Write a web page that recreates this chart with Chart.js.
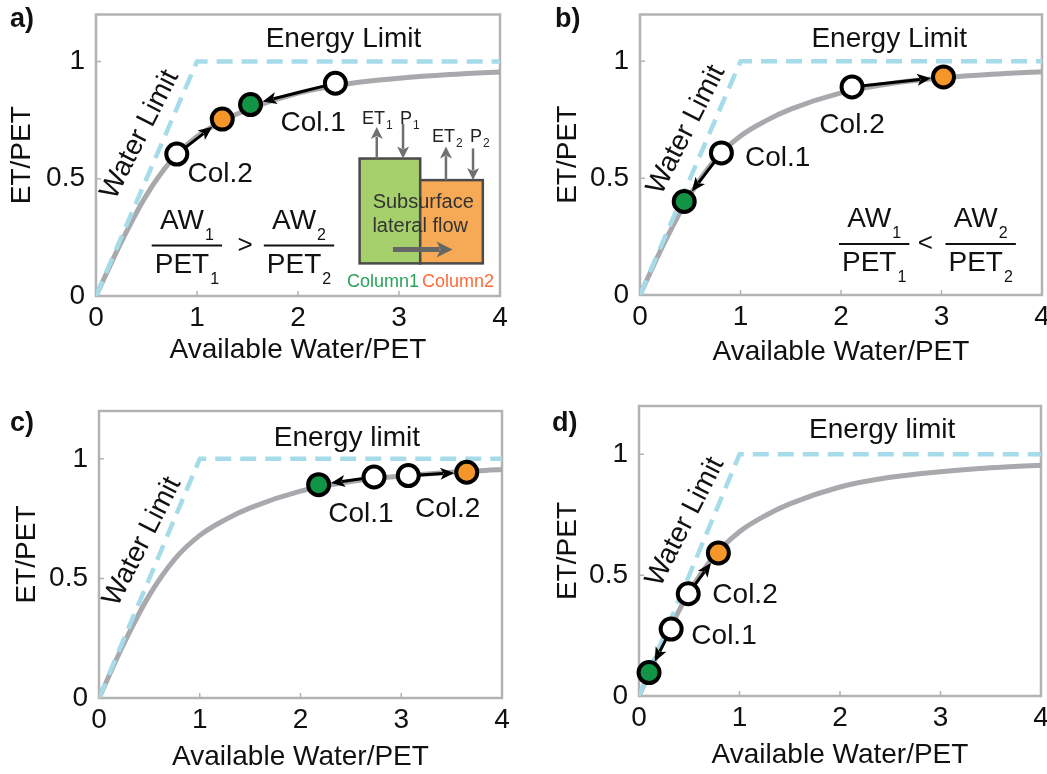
<!DOCTYPE html>
<html>
<head>
<meta charset="utf-8">
<script src="https://cdn.jsdelivr.net/npm/chart.js@4/dist/chart.umd.min.js"></script>
<style>
  html, body { margin: 0; padding: 0; background: #fff; overflow: hidden; }
  body { width: 1047px; height: 774px; position: relative; font-family: 'Liberation Sans', Arial, sans-serif; }
  .panel { position: absolute; }
  .panel canvas { display: block; }
  .tag { position: absolute; font-weight: bold; font-size: 27px; line-height: 28px; color: #111; }
</style>
</head>
<body>
<div class="panel" style="left:0;top:0"><canvas id="chartA" width="520" height="390"></canvas></div>
<div class="panel" style="left:520px;top:0"><canvas id="chartB" width="540" height="390"></canvas></div>
<div class="panel" style="left:0;top:390px"><canvas id="chartC" width="520" height="384"></canvas></div>
<div class="panel" style="left:520px;top:390px"><canvas id="chartD" width="540" height="384"></canvas></div>
<div class="tag" style="left:10px;top:4px">a)</div>
<div class="tag" style="left:555px;top:4px">b)</div>
<div class="tag" style="left:10px;top:408px">c)</div>
<div class="tag" style="left:552px;top:408px">d)</div>
<script>
const FONT = "'Liberation Sans', Arial, sans-serif";

// Budyko-type curve
const budykoX = [0, 0.25, 0.5, 0.75, 1, 1.25, 1.5, 2, 2.5, 3, 3.5, 4];
const budykoY = [0, 0.23, 0.43, 0.58, 0.68, 0.745, 0.795, 0.865, 0.905, 0.928, 0.944, 0.955];
// water limit + energy limit
const limitX = [0, 1, 4];
const limitY = [0, 1, 1];
const xTicks = [0, 1, 2, 3, 4];
const yTicks = [0, 0.5, 1];

// markers: Col.1 before, Col.1 after, Col.2 before, Col.2 after
const aX = [2.37, 1.53, 0.80, 1.25];
const aY = [0.907, 0.816, 0.605, 0.754];
const bX = [0.81, 0.44, 2.11, 3.02];
const bY = [0.608, 0.40, 0.89, 0.933];
const cX = [2.73, 2.18, 3.07, 3.65];
const cY = [0.924, 0.892, 0.93, 0.944];
const dX = [0.32, 0.10, 0.49, 0.79];
const dY = [0.277, 0.097, 0.423, 0.592];
const markerFill = ['#ffffff', '#119446', '#ffffff', '#f5962a'];

function arrow(ctx, x1, y1, x2, y2, cut1, cut2, width, head, half, color) {
    const a = Math.atan2(y2 - y1, x2 - x1);
    const c = Math.cos(a), s = Math.sin(a);
    const sx = x1 + c * cut1, sy = y1 + s * cut1;
    const ex = x2 - c * cut2, ey = y2 - s * cut2;
    ctx.strokeStyle = color;
    ctx.fillStyle = color;
    ctx.lineWidth = width;
    ctx.beginPath();
    ctx.moveTo(sx, sy);
    ctx.lineTo(ex - c * head * 0.8, ey - s * head * 0.8);
    ctx.stroke();
    ctx.beginPath();
    ctx.moveTo(ex, ey);
    ctx.lineTo(ex - c * head + s * half, ey - s * head - c * half);
    ctx.lineTo(ex - c * head * 0.75, ey - s * head * 0.75);
    ctx.lineTo(ex - c * head - s * half, ey - s * head + c * half);
    ctx.closePath();
    ctx.fill();
}

// text with a subscript, left aligned at (px, py) baseline
function subText(ctx, main, sub, px, py, size, subSize, drop) {
    ctx.font = size + 'px ' + FONT;
    ctx.fillText(main, px, py);
    const w = ctx.measureText(main).width;
    ctx.font = subSize + 'px ' + FONT;
    ctx.fillText(sub, px + w + 1, py + drop);
    return w + 1 + ctx.measureText(sub).width;
}

function measureSub(ctx, main, sub, size, subSize) {
    ctx.font = size + 'px ' + FONT;
    const w = ctx.measureText(main).width;
    ctx.font = subSize + 'px ' + FONT;
    return w + 1 + ctx.measureText(sub).width;
}

function drawFraction(ctx, cx, ly, num, den, sub) {
    const wN = measureSub(ctx, num, sub, 28, 16);
    const wD = measureSub(ctx, den, sub, 28, 16);
    const w = Math.max(wN, wD) + 6;
    ctx.strokeStyle = '#111';
    ctx.lineWidth = 2;
    ctx.beginPath();
    ctx.moveTo(cx - w / 2, ly);
    ctx.lineTo(cx + w / 2, ly);
    ctx.stroke();
    ctx.textAlign = 'left';
    ctx.textBaseline = 'alphabetic';
    subText(ctx, num, sub, cx - wN / 2, ly - 17, 28, 16, 11);
    subText(ctx, den, sub, cx - wD / 2, ly + 27, 28, 16, 11);
}

function drawInset(chart) {
    const { ctx, scales: { x, y } } = chart;
    const X = v => x.getPixelForValue(v);
    const Y = v => y.getPixelForValue(v);
    ctx.save();
    ctx.lineWidth = 2.5;
    ctx.strokeStyle = '#4a4a4a';
    ctx.fillStyle = '#a6d06c';
    ctx.fillRect(X(2.61), Y(0.586), X(3.21) - X(2.61), Y(0.139) - Y(0.586));
    ctx.strokeRect(X(2.61), Y(0.586), X(3.21) - X(2.61), Y(0.139) - Y(0.586));
    ctx.fillStyle = '#f7aa55';
    ctx.fillRect(X(3.21), Y(0.494), X(3.83) - X(3.21), Y(0.139) - Y(0.494));
    ctx.strokeRect(X(3.21), Y(0.494), X(3.83) - X(3.21), Y(0.139) - Y(0.494));

    ctx.fillStyle = '#333';
    ctx.textAlign = 'center';
    ctx.textBaseline = 'middle';
    ctx.font = '20px ' + FONT;
    ctx.fillText('Subsurface', X(3.24), Y(0.397));
    ctx.fillText('lateral flow', X(3.21), Y(0.295));

    arrow(ctx, X(2.94), Y(0.198), X(3.53), Y(0.198), 0, 0, 5, 16, 8, '#666');
    // vertical fluxes
    arrow(ctx, X(2.78), Y(0.586), X(2.78), Y(0.72), 0, 0, 2.5, 12, 6, '#707070');
    arrow(ctx, X(3.04), Y(0.734), X(3.04), Y(0.586), 0, 0, 2.5, 12, 6, '#707070');
    arrow(ctx, X(3.465), Y(0.494), X(3.465), Y(0.637), 0, 0, 2.5, 12, 6, '#707070');
    arrow(ctx, X(3.733), Y(0.629), X(3.733), Y(0.494), 0, 0, 2.5, 12, 6, '#707070');

    ctx.fillStyle = '#222';
    ctx.textAlign = 'left';
    ctx.textBaseline = 'alphabetic';
    subText(ctx, 'ET', '1', X(2.634), Y(0.734), 18, 12, 5);
    subText(ctx, 'P', '1', X(3.01), Y(0.734), 18, 12, 5);
    subText(ctx, 'ET', '2', X(3.327), Y(0.658), 18, 12, 5);
    subText(ctx, 'P', '2', X(3.703), Y(0.658), 18, 12, 5);

    ctx.font = '18px ' + FONT;
    ctx.fillStyle = '#2aa25a';
    ctx.fillText('Column1', X(2.485), Y(0.038));
    ctx.fillStyle = '#ff6a3a';
    ctx.fillText('Column2', X(3.228), Y(0.038));
    ctx.restore();
}

const figurePlugin = {
    id: 'figure',
    beforeDatasetsDraw(chart) {
        const { ctx, chartArea: a, scales: { x, y } } = chart;
        ctx.save();
        ctx.strokeStyle = '#b3b3b3';
        ctx.lineWidth = 2.5;
        ctx.strokeRect(a.left, a.top, a.right - a.left, a.bottom - a.top);
        ctx.lineWidth = 1.5;
        ctx.beginPath();
        xTicks.slice(1, -1).forEach(v => {
            const px = x.getPixelForValue(v);
            ctx.moveTo(px, a.bottom);
            ctx.lineTo(px, a.bottom - 5);
        });
        yTicks.slice(1).forEach(v => {
            const py = y.getPixelForValue(v);
            ctx.moveTo(a.left, py);
            ctx.lineTo(a.left + 5, py);
        });
        ctx.stroke();
        ctx.restore();
    },
    afterDatasetDraw(chart, args) {
        // arrows go between the lines and the markers
        if (args.index !== 1) return;
        const { ctx, scales: { x, y } } = chart;
        const pts = chart.data.datasets[0].data;
        ctx.save();
        [[0, 1], [2, 3]].forEach(([i, j]) => {
            arrow(ctx,
                x.getPixelForValue(pts[i].x), y.getPixelForValue(pts[i].y),
                x.getPixelForValue(pts[j].x), y.getPixelForValue(pts[j].y),
                11, 12.5, 3, 14, 6, '#000');
        });
        ctx.restore();
    },
    afterDatasetsDraw(chart, args, opts) {
        const { ctx, scales: { x, y } } = chart;
        ctx.save();
        ctx.fillStyle = '#111';
        ctx.textAlign = 'center';
        ctx.textBaseline = 'middle';
        ctx.font = '28px ' + FONT;
        (opts.notes || []).forEach(n => {
            const px = x.getPixelForValue(n.x), py = y.getPixelForValue(n.y);
            if (n.rot) {
                ctx.save();
                ctx.translate(px, py);
                ctx.rotate(n.rot * Math.PI / 180);
                ctx.fillText(n.t, 0, 0);
                ctx.restore();
            } else {
                ctx.fillText(n.t, px, py);
            }
        });
        if (opts.frac) {
            const f = opts.frac;
            const ly = y.getPixelForValue(f.y);
            drawFraction(ctx, x.getPixelForValue(f.x1), ly, 'AW', 'PET', '1');
            drawFraction(ctx, x.getPixelForValue(f.x2), ly, 'AW', 'PET', '2');
            ctx.font = '26px ' + FONT;
            ctx.textAlign = 'center';
            ctx.textBaseline = 'middle';
            ctx.fillStyle = '#111';
            ctx.fillText(f.op, x.getPixelForValue(f.xo), ly);
        }
        ctx.restore();
        if (opts.inset) drawInset(chart);
    }
};

function buildChart(id, box, xs, ys, extra) {
    const ctx = document.getElementById(id).getContext('2d');
    const font = { family: FONT, size: 28, lineHeight: 1.2 };

    return new Chart(ctx, {
        type: 'scatter',
        data: {
            datasets: [{
                label: 'columns',
                data: xs.map((v, i) => ({ x: v, y: ys[i] })),
                showLine: false,
                pointRadius: 10.5,
                pointBorderWidth: 4,
                pointBorderColor: '#000',
                pointBackgroundColor: markerFill,
                clip: false,
                order: 0
            }, {
                label: 'limits',
                data: limitX.map((v, i) => ({ x: v, y: limitY[i] })),
                showLine: true,
                borderColor: '#a6dce9',
                borderWidth: 4.5,
                borderDash: [16, 9],
                borderJoinStyle: 'round',
                pointRadius: 0,
                order: 1
            }, {
                label: 'budyko',
                data: budykoX.map((v, i) => ({ x: v, y: budykoY[i] })),
                showLine: true,
                borderColor: '#a9a9ad',
                borderWidth: 5,
                cubicInterpolationMode: 'monotone',
                pointRadius: 0,
                order: 2
            }]
        },
        options: {
            responsive: false,
            animation: false,
            devicePixelRatio: 1,
            layout: {
                padding: { left: 0, top: box.top, right: box.w - box.right, bottom: 0 }
            },
            scales: {
                x: {
                    type: 'linear',
                    min: 0,
                    max: 4,
                    afterBuildTicks: s => { s.ticks = xTicks.map(v => ({ value: v })); },
                    afterFit: s => {
                        s.height = box.h - box.bottom;
                        s.paddingLeft = 0;
                        s.paddingRight = 0;
                    },
                    grid: { display: false, drawTicks: false },
                    border: { display: false },
                    ticks: { font: font, color: '#111', padding: 5, callback: v => String(v) },
                    title: {
                        display: true,
                        text: 'Available Water/PET',
                        font: font,
                        color: '#111',
                        padding: { top: 0, bottom: box.xPad }
                    }
                },
                y: {
                    type: 'linear',
                    min: 0,
                    max: 1.2,
                    afterBuildTicks: s => { s.ticks = yTicks.map(v => ({ value: v })); },
                    afterFit: s => {
                        s.width = box.left;
                        s.paddingTop = 0;
                        s.paddingBottom = 0;
                    },
                    grid: { display: false, drawTicks: false },
                    border: { display: false },
                    ticks: { font: font, color: '#111', padding: 11, callback: v => String(v) },
                    title: {
                        display: true,
                        text: 'ET/PET',
                        font: font,
                        color: '#111',
                        padding: { top: box.yPad, bottom: 0 }
                    }
                }
            },
            plugins: {
                legend: { display: false },
                tooltip: { enabled: false },
                figure: extra
            }
        },
        plugins: [figurePlugin]
    });
}

buildChart('chartA',
    { w: 520, h: 390, left: 96, right: 500, top: 12, bottom: 296, xPad: 23, yPad: 5 },
    aX, aY, {
        notes: [
            { t: 'Energy Limit', x: 2.45, y: 1.093 },
            { t: 'Col.1', x: 2.15, y: 0.738 },
            { t: 'Col.2', x: 1.23, y: 0.519 },
            { t: 'Water Limit', x: 0.436, y: 0.688, rot: -63 }
        ],
        frac: { x1: 0.9, x2: 2.01, xo: 1.475, y: 0.215, op: '>' },
        inset: true
    });

buildChart('chartB',
    { w: 540, h: 390, left: 120, right: 522, top: 8, bottom: 295, xPad: 21, yPad: 31 },
    bX, bY, {
        notes: [
            { t: 'Energy Limit', x: 2.48, y: 1.092 },
            { t: 'Col.2', x: 2.11, y: 0.727 },
            { t: 'Col.1', x: 1.37, y: 0.584 },
            { t: 'Water Limit', x: 0.46, y: 0.706, rot: -63 }
        ],
        frac: { x1: 2.33, x2: 3.39, xo: 2.84, y: 0.218, op: '<' }
    });

buildChart('chartC',
    { w: 520, h: 384, left: 99, right: 502, top: 21, bottom: 308, xPad: 0, yPad: 10 },
    cX, cY, {
        notes: [
            { t: 'Energy limit', x: 2.46, y: 1.0875 },
            { t: 'Col.1', x: 2.6, y: 0.767 },
            { t: 'Col.2', x: 3.46, y: 0.79 },
            { t: 'Water Limit', x: 0.43, y: 0.654, rot: -63 }
        ]
    });

buildChart('chartD',
    { w: 540, h: 384, left: 119, right: 521, top: 16, bottom: 306, xPad: 2, yPad: 31 },
    dX, dY, {
        notes: [
            { t: 'Energy limit', x: 2.42, y: 1.1 },
            { t: 'Col.2', x: 1.055, y: 0.417 },
            { t: 'Col.1', x: 0.846, y: 0.246 },
            { t: 'Water Limit', x: 0.46, y: 0.72, rot: -63 }
        ]
    });
</script>
</body>
</html>
